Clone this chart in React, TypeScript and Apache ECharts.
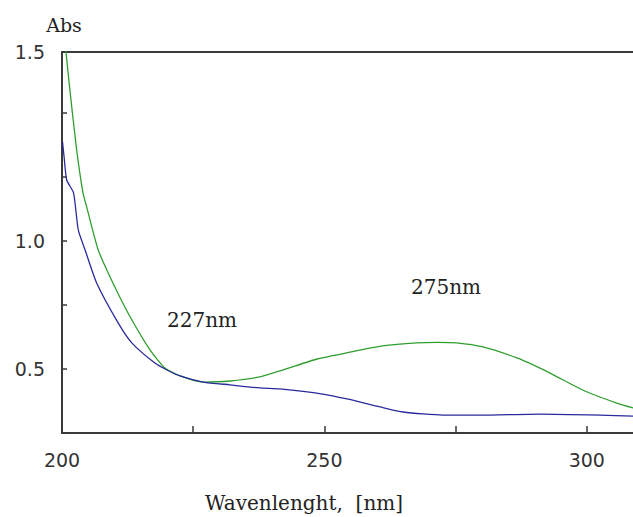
import React, { useEffect, useRef } from "react";
import * as echarts from "echarts";

const greenWavelength = [200.2, 201.5, 202.8, 204.0, 204.7, 206.9, 209.7, 213.0, 216.8, 219.6, 222.5, 226.9, 232.0, 237.7, 242.1, 248.6, 254.9, 261.1, 267.6, 271.5, 275.2, 280.2, 286.7, 293.0, 299.2, 305.7, 308.8];
const greenAbs = [1.85, 1.59, 1.355, 1.188, 1.133, 0.965, 0.836, 0.703, 0.574, 0.504, 0.473, 0.449, 0.453, 0.469, 0.496, 0.539, 0.566, 0.59, 0.602, 0.604, 0.602, 0.586, 0.543, 0.484, 0.418, 0.367, 0.348];

const blueWavelength = [200.1, 200.4, 200.9, 202.2, 203.1, 204.4, 206.6, 210.7, 213.3, 217.7, 220.0, 222.5, 226.9, 232.0, 237.7, 241.5, 249.7, 254.3, 260.6, 265.0, 272.6, 279.6, 291.0, 302.5, 308.8];
const blueAbs = [1.387, 1.328, 1.238, 1.188, 1.043, 0.965, 0.836, 0.68, 0.602, 0.523, 0.496, 0.473, 0.449, 0.438, 0.426, 0.422, 0.402, 0.383, 0.352, 0.332, 0.32, 0.32, 0.324, 0.32, 0.316];

const xLabels = [200, 250, 300];
const yLabels: [number, string][] = [[0.5, "0.5"], [1.0, "1.0"]];
const yTopLabel = "1.5";
const xMin = 200;
const xMax = 308.8;
const yMin = 0.25;
const yMax = 1.738;
const annotations: [string, number, number][] = [["227nm", 202, 320], ["275nm", 446, 287]];

export default function App() {
  const ref = useRef<HTMLDivElement>(null);
  useEffect(() => {
    if (!ref.current) return;
    const chart = echarts.init(ref.current, null, { renderer: "svg" });
    const axisColor = "#3a3a3a";
    const serif = "DejaVu Serif";
    chart.setOption({
      animation: false,
      backgroundColor: "#ffffff",
      grid: { left: 62, top: 52, right: 0, bottom: 84, containLabel: false, outerBoundsMode: "none" },
      xAxis: [
        {
          type: "value",
          min: xMin,
          max: xMax,
          interval: 25,
          position: "bottom",
          splitLine: { show: false },
          axisLine: { lineStyle: { color: axisColor, width: 2 } },
          axisTick: { inside: true, length: 7, lineStyle: { color: axisColor, width: 1.5 } },
          axisLabel: {
            margin: 17,
            fontFamily: "DejaVu Sans",
            fontSize: 19,
            color: "#333",
            showMaxLabel: false,
            formatter: (v: number) => (xLabels.indexOf(v) >= 0 ? String(v) : ""),
          },
        },
        {
          type: "value",
          min: xMin,
          max: xMax,
          position: "top",
          splitLine: { show: false },
          axisLine: { lineStyle: { color: axisColor, width: 2 } },
          axisTick: { show: false },
          axisLabel: { show: false },
        },
      ],
      yAxis: {
        type: "value",
        min: yMin,
        max: yMax,
        interval: 0.25,
        splitLine: { show: false },
        axisLine: { lineStyle: { color: axisColor, width: 2 } },
        axisTick: { inside: true, length: 5, lineStyle: { color: axisColor, width: 1.5 } },
        axisLabel: {
          margin: 17,
          fontFamily: "DejaVu Sans",
          fontSize: 19,
          color: "#333",
          showMaxLabel: true,
          formatter: (v: number) => {
            if (v > 1.7) return yTopLabel;
            const f = yLabels.find((l) => Math.abs(l[0] - v) < 1e-6);
            return f ? f[1] : "";
          },
        },
      },
      series: [
        {
          type: "line",
          xAxisIndex: 0,
          data: greenWavelength.map((x, i) => [x, greenAbs[i]]),
          showSymbol: false,
          smooth: 0.2,
          lineStyle: { color: "#2f9e2f", width: 1.3 },
          clip: true,
        },
        {
          type: "line",
          xAxisIndex: 0,
          data: blueWavelength.map((x, i) => [x, blueAbs[i]]),
          showSymbol: false,
          smooth: 0.2,
          lineStyle: { color: "#2a2a9c", width: 1.3 },
          clip: true,
        },
      ],
      graphic: [
        { type: "text", x: 64, y: 25, style: { text: "Abs", font: `19px "${serif}"`, fill: "#222", align: "center", verticalAlign: "middle" } },
        { type: "text", x: 304, y: 503, style: { text: "Wavenlenght,  [nm]", font: `20px "${serif}"`, fill: "#222", align: "center", verticalAlign: "middle" } },
        ...annotations.map(([t, x, y]) => ({
          type: "text",
          x,
          y,
          style: { text: t, font: `20px "${serif}"`, fill: "#222", align: "center", verticalAlign: "middle" },
        })),
      ],
    });
    return () => chart.dispose();
  }, []);
  return <div ref={ref} style={{ position: "fixed", left: 0, top: 0, width: 633, height: 517 }} />;
}
